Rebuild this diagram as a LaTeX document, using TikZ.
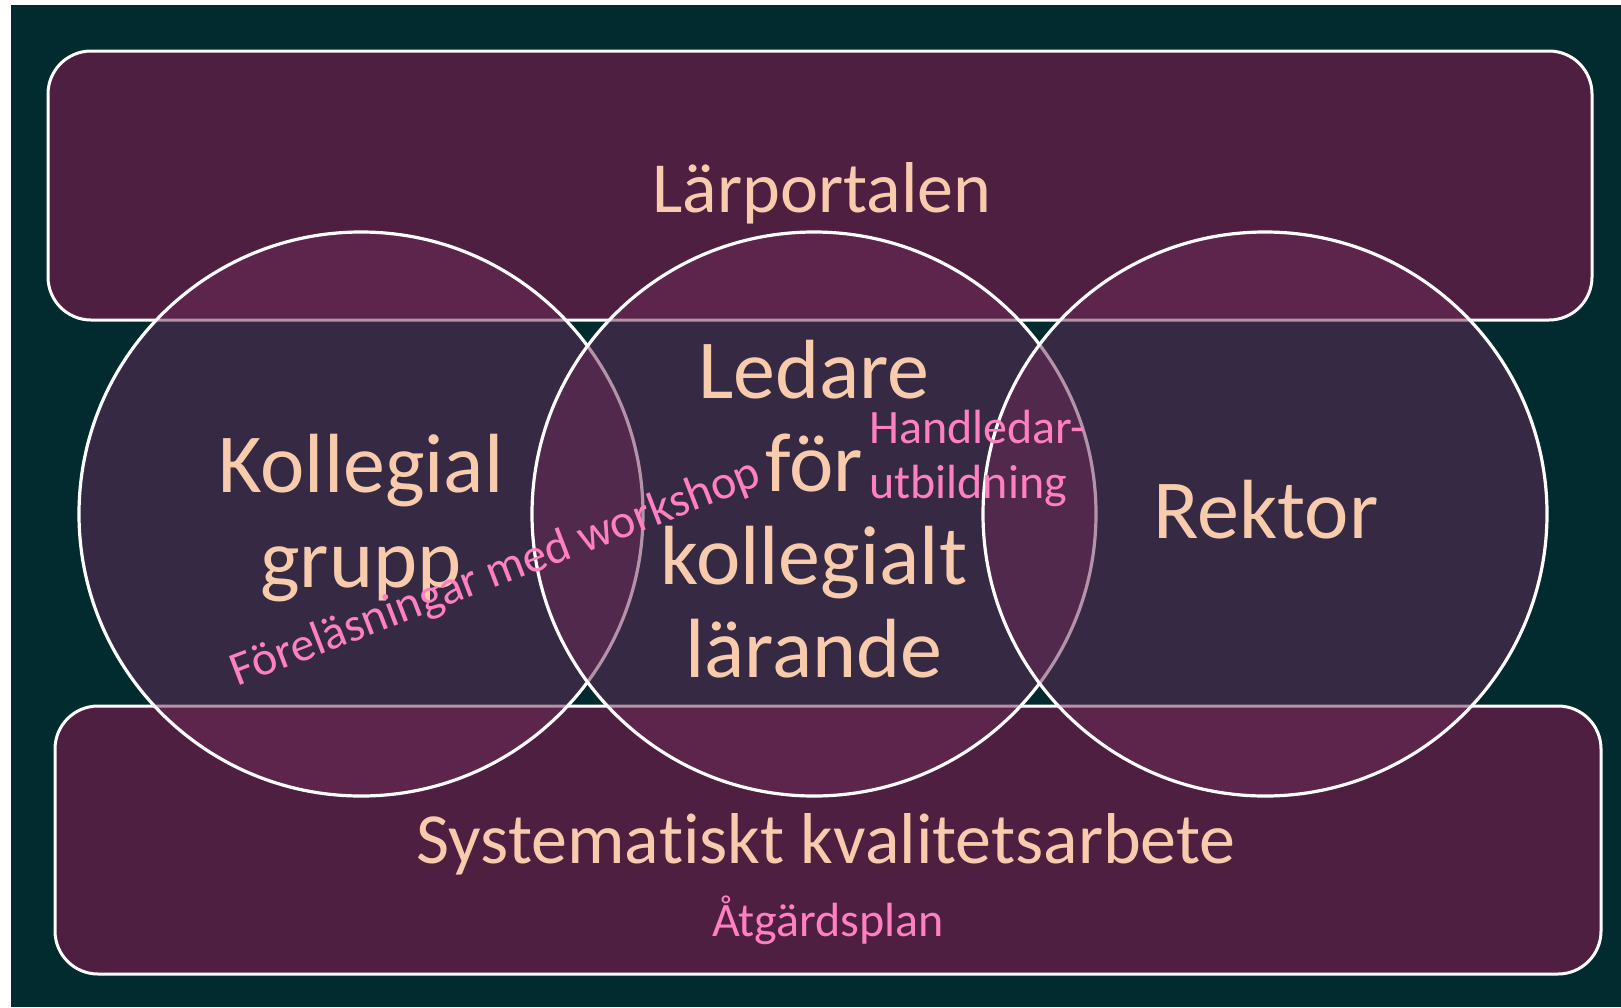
\documentclass[tikz,border=0pt]{standalone}
\usepackage{fontspec}
\setmainfont{Carlito}[Ligatures={NoCommon,NoRequired,NoContextual}]
\definecolor{bgteal}{HTML}{022B30}
\definecolor{rectfill}{HTML}{4F1F42}
\definecolor{circfill}{HTML}{6B2956}
\definecolor{peach}{HTML}{F8CBAD}
\definecolor{pinktxt}{HTML}{FF80C0}
\tikzset{
  band/.style={draw=white, line width=3pt, fill=rectfill, rounded corners=43pt},
  ring/.style={draw=white, line width=3.2pt, fill=circfill, fill opacity=0.5, draw opacity=1},
  bigtxt/.style={text=peach, inner sep=0pt, anchor=base, font=\fontsize{84}{94}\selectfont},
  midtxt/.style={text=peach, inner sep=0pt, anchor=base, font=\fontsize{72}{80}\selectfont},
  smalltxt/.style={text=pinktxt, inner sep=0pt, font=\fontsize{48}{56}\selectfont},
}
\begin{document}
\begin{tikzpicture}[x=1pt,y=-1pt]
\useasboundingbox (0,0) rectangle (1621,1007);
\fill[white] (0,0) rectangle (1621,1007);
\fill[bgteal] (11,5) rectangle (1621,1007);
% bands
\draw[band] (48,51) rectangle (1592,320);
\draw[band] (55,706) rectangle (1601,974);
% circles
\draw[ring] (361,514) circle[radius=282];
\draw[ring] (814,514) circle[radius=282];
\draw[ring] (1265,514) circle[radius=282];
% texts
\node[midtxt] (lp) at (822,212) {Lärportalen};
\node[bigtxt] (k1) at (361,492) {Kollegial};
\node[bigtxt] (k2) at (361,587) {grupp};
\node[bigtxt] (l1) at (814,398) {Ledare};
\node[bigtxt] (l2) at (814,491) {för};
\node[bigtxt] (l3) at (814,584) {kollegialt};
\node[bigtxt] (l4) at (814,677) {lärande};
\node[bigtxt] (rk) at (1266,538) {Rektor};
\node[midtxt] (sk) at (826,863) {Systema\kern0pt tiskt kvalitetsarbete};
\node[smalltxt, anchor=base] (ap) at (828,936) {Åtgärdsplan};
\node[smalltxt, anchor=base west] (h1) at (869,443) {Handledar-};
\node[smalltxt, anchor=base west] (h2) at (869,498) {utbildning};
\node[smalltxt, rotate=21] (fw) at (496,574) {Föreläsningar med workshop};
\end{tikzpicture}
\end{document}
